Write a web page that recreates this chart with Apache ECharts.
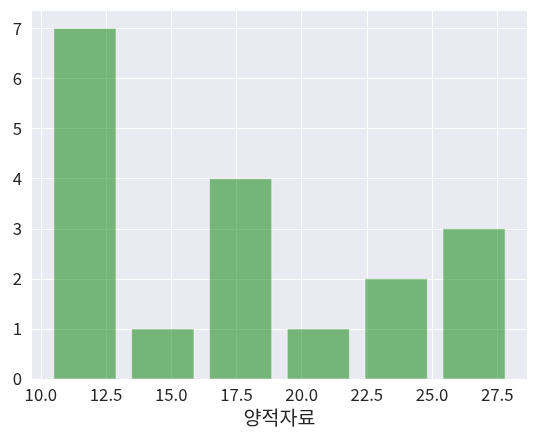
<!DOCTYPE html>
<html>
<head>
<meta charset="utf-8">
<script src="https://cdn.jsdelivr.net/npm/echarts@6/dist/echarts.min.js"></script>
<style>
html,body{margin:0;padding:0;background:#fff;}
#c{width:536px;height:441px;}
</style>
</head>
<body>
<div id="c"></div>
<script>
// Histogram data
const binEdges = [10.2, 13.18, 16.17, 19.15, 22.13, 25.12, 28.1];
const counts = [7, 1, 4, 1, 2, 3];
const xTicks = [10, 12.5, 15, 17.5, 20, 22.5, 25, 27.5];
const yTicks = [0, 1, 2, 3, 4, 5, 6, 7];
const xLabel = '양적자료';

const rwidth = 0.8;
const seriesData = counts.map((c, i) => [binEdges[i], binEdges[i + 1], c]);

const chart = echarts.init(document.getElementById('c'), null, { renderer: 'canvas' });
const font = '"Noto Sans CJK KR", "Noto Sans", sans-serif';
chart.setOption({
  animation: false,
  grid: {
    left: 32, right: 9, top: 11, bottom: 62,
    show: true, backgroundColor: '#EAEAF2', borderWidth: 0
  },
  xAxis: {
    type: 'value',
    min: 9.66, max: 28.64,
    name: xLabel,
    nameLocation: 'middle',
    nameGap: 26,
    nameTextStyle: { fontSize: 19.5, color: '#262626', fontFamily: font },
    axisLine: { show: false },
    axisTick: { show: false, customValues: xTicks },
    axisLabel: {
      customValues: xTicks,
      formatter: v => Number(v).toFixed(1),
      fontSize: 16.8, color: '#262626', fontFamily: font, margin: 7
    },
    splitLine: { show: true, lineStyle: { color: '#ffffff', width: 1 } }
  },
  yAxis: {
    type: 'value',
    min: 0, max: 7.35,
    axisLine: { show: false },
    axisTick: { show: false, customValues: yTicks },
    axisLabel: {
      customValues: yTicks,
      fontSize: 16.8, color: '#262626', fontFamily: font, margin: 10
    },
    splitLine: { show: true, lineStyle: { color: '#ffffff', width: 1 } }
  },
  series: [{
    type: 'custom',
    data: seriesData,
    renderItem: function (params, api) {
      const l = api.value(0), r = api.value(1), h = api.value(2);
      const w = r - l, c = (l + r) / 2;
      const p0 = api.coord([c - w * rwidth / 2, h]);
      const p1 = api.coord([c + w * rwidth / 2, 0]);
      return {
        type: 'rect',
        shape: { x: p0[0], y: p0[1], width: p1[0] - p0[0], height: p1[1] - p0[1] },
        style: { fill: 'rgba(0,128,0,0.5)', stroke: 'rgba(255,255,255,0.5)', lineWidth: 1 }
      };
    }
  }]
});
</script>
</body>
</html>
